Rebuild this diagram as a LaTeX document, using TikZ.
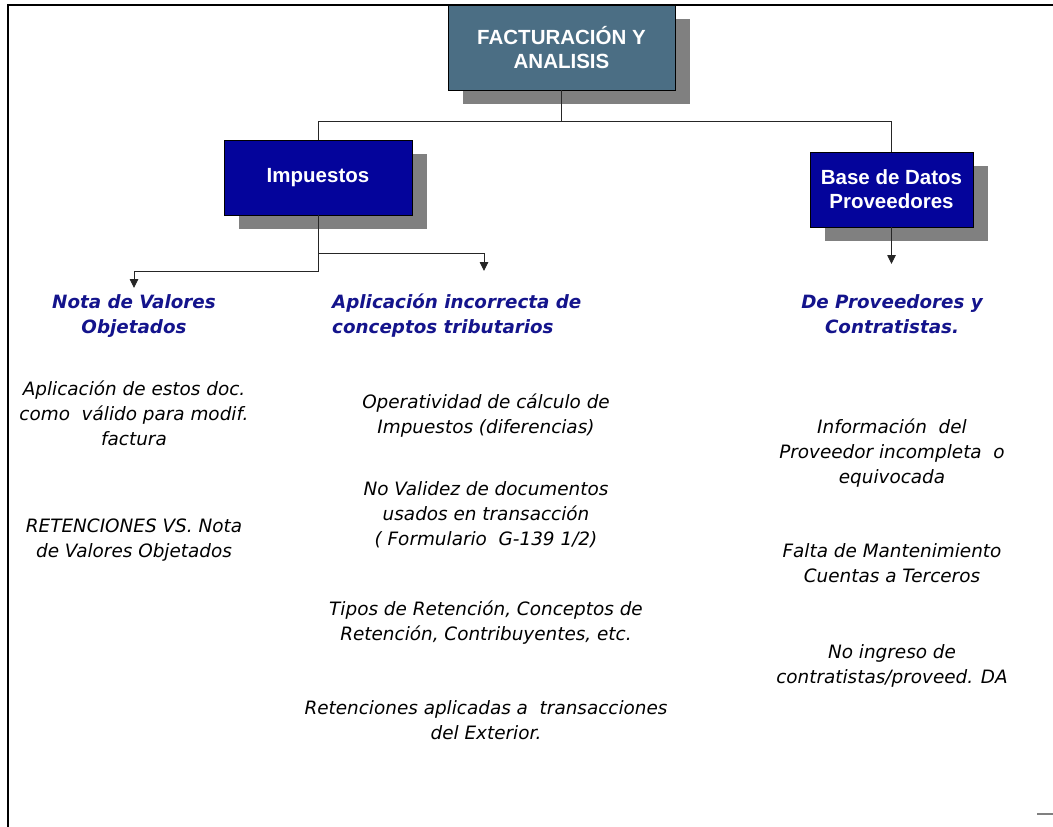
\documentclass[tikz,border=0pt]{standalone}
\usepackage{fontspec}
\setmainfont{DejaVu Sans}
\newfontfamily\boxfont{Liberation Sans}
\usetikzlibrary{arrows.meta,shadows}
\definecolor{slate}{RGB}{75,110,132}
\definecolor{navybox}{RGB}{4,4,155}
\definecolor{shade}{RGB}{128,128,128}
\definecolor{headblue}{RGB}{20,20,140}
\begin{document}
\begin{tikzpicture}[x=1pt,y=-1pt,
  box/.style={draw=black, line width=0.8pt, text=white,
    font=\boxfont\bfseries\fontsize{20.5}{24}\selectfont, align=center, inner sep=0pt,
    drop shadow={shadow xshift=15pt, shadow yshift=-14pt, fill=shade, opacity=1, draw=none}},
  head/.style={font=\bfseries\itshape\fontsize{18.3}{25}\selectfont, text=headblue,
    align=center, inner sep=0pt, anchor=base},
  body/.style={font=\itshape\fontsize{18.4}{25}\selectfont, align=center, inner sep=0pt, anchor=base},
  conn/.style={draw=black!85, line width=0.9pt},
  arr/.style={conn, -{Triangle[length=9pt,width=8.5pt]}}]
\useasboundingbox (0,0) rectangle (1053,827);

% boxes
\node[box, fill=slate, minimum width=227pt, minimum height=85pt] (top) at (561.5,47.5) {FACTURACIÓN Y\\ANALISIS};
\node[box, fill=navybox, minimum width=188pt, minimum height=75pt] (imp) at (318,177.5) {Impuestos};
\node[box, fill=navybox, minimum width=163pt, minimum height=75pt] (bdp) at (891.5,189.5) {Base de Datos\\Proveedores};

% connectors
\coordinate (hb) at (0,121);
\coordinate (t1) at (134,288);
\coordinate (t2) at (484,271);
\coordinate (t3) at (0,264);
\draw[conn] (top.south) -- (top.south |- hb);
\draw[conn] (imp.north) -- (imp.north |- hb) -- (bdp.north |- hb) -- (bdp.north);
\draw[arr] (imp.south) -- ++(0,56) -| (t1);
\draw[arr] (imp.south) ++(0,38) -| (t2);
\draw[arr] (bdp.south) -- (bdp.south |- t3);

% headings (anchor = baseline of last line)
\node[head] (h1) at (134,333) {Nota de Valores\\Objetados};
\node[head, align=left, anchor=base west] (h2) at (332,333) {Aplicación incorrecta de\\conceptos tributarios};
\node[head] (h3) at (892,333) {De Proveedores y\\Contratistas.};

% left column
\node[body] (l1) at (134,445) {Aplicación de estos doc.\\como~ válido para modif.\\factura};
\node[body] (l2) at (134,557) {RETENCIONES VS. Nota\\de Valores Objetados};

% middle column
\node[body] (m1) at (486,433) {Operatividad de cálculo de\\Impuestos (diferencias)};
\node[body] (m2) at (486,545) {No Validez de documentos\\usados en transacción\\( Formulario~ G-139 1/2)};
\node[body] (m3) at (486,640) {Tipos de Retención, Conceptos de\\Retención, Contribuyentes, etc.};
\node[body] (m4) at (486,739) {Retenciones aplicadas a~ transacciones\\del Exterior.};

% right column
\node[body] (r1) at (892,483) {Información~ del\\Proveedor incompleta~ o\\equivocada};
\node[body] (r2) at (892,582) {Falta de Mantenimiento\\Cuentas a Terceros};
\node[body] (r3) at (892,683) {No ingreso de\\contratistas/proveed. DA};

% frame
\draw[line width=2pt] (7.7,827) -- (7.7,5.3) -- (1053,5.3);
\draw[draw=shade, line width=1.5pt] (1037,814) -- (1053,814);
\end{tikzpicture}
\end{document}
